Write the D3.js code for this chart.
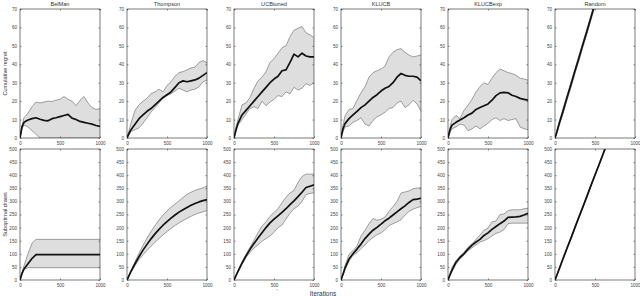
<!DOCTYPE html>
<html>
<head>
<meta charset="utf-8">
<script src="https://cdn.jsdelivr.net/npm/d3@7"></script>
<style>
  html, body { margin: 0; padding: 0; background: #fff; }
  svg { display: block; font-family: "Liberation Sans", Arial, sans-serif; }
  .tick text { fill: #444; font-size: 4.6px; }
  .tick line { stroke: #222; stroke-width: 0.5; }
</style>
</head>
<body>
<svg id="chart" width="640" height="296"></svg>
<script>
const methods = ["BelMan", "Thompson", "UCBtuned", "KLUCB", "KLUCBexp", "Random"];
const iterations = [0, 25, 50, 100, 150, 200, 250, 300, 350, 400, 450, 500, 550, 600, 650, 700, 750, 800, 850, 900, 950, 1000];
const regretTicks = [0, 10, 20, 30, 40, 50, 60, 70];
const drawsTicks = [0, 50, 100, 150, 200, 250, 300, 350, 400, 450, 500];
const iterTicks = [0, 500, 1000];

// Cumulative regret (top row): mean and band edges, one list per method
const regretMean = [
  [0, 6, 8.5, 9.8, 10.5, 11, 10.2, 9.6, 9.3, 10.5, 11, 11.6, 12.2, 12.8, 10.8, 10, 9, 8.5, 8, 7.5, 6.8, 6.3],
  [0, 2.5, 4.5, 7.5, 10.5, 12.5, 14.5, 16, 18, 20, 22, 23.5, 25, 27.5, 30, 31, 30.5, 31, 31.5, 32.5, 34, 35.5],
  [0, 4.5, 8, 12.5, 15, 17.5, 20, 22.5, 25, 27.5, 30, 32, 33.5, 36.5, 37, 41, 45.5, 44, 46, 44.5, 44, 44],
  [0, 5, 7.8, 10.5, 12.5, 14.5, 16.5, 18, 20, 22, 23.5, 25.5, 27, 28, 30, 33, 35, 34, 33.5, 33.5, 33, 31],
  [0, 4.5, 7, 8.5, 9.8, 11, 12.5, 13.5, 15.5, 16.5, 17.5, 18.5, 20.5, 23, 24.5, 24.8, 24.5, 23.2, 22.5, 21.5, 21, 20.5],
  [0, 3.5, 7.5, 14.5, 22, 29, 36.5, 43.5, 51, 58, 65.5, 73, 80, 87.5, 95, 102, 109, 116.5, 124, 131, 138, 145]
];
const regretUpper = [
  [0, 7, 11, 13.5, 17, 19.5, 19, 19.5, 20, 19.8, 20.5, 21, 22.5, 21, 20, 17.5, 20.5, 22.5, 19, 16.5, 15.5, 16],
  [0, 4, 8, 15, 18, 20, 21.5, 24, 25, 26.5, 25, 28.5, 30.5, 33.5, 35.5, 36, 37, 38, 38.5, 41, 42, 40.8],
  [0, 6, 10, 18, 19, 22, 27, 31, 33, 36, 41, 43, 46, 49, 50, 55, 58.5, 59.5, 60.5, 57, 56, 54.5],
  [0, 7, 12, 15.5, 16, 20.5, 24.5, 27.8, 33, 35.5, 36.5, 37.5, 39, 44, 46.5, 48, 48.5, 46.5, 45, 44, 44.5, 45],
  [0, 6, 10, 12.3, 10.5, 15, 17.8, 21, 25, 28, 30, 29, 32.5, 35.5, 37.5, 36.5, 35.5, 35, 34, 32.5, 32, 31.4],
  [0, 4.5, 8.5, 16, 23, 30.5, 37.5, 45, 52, 59.5, 66.5, 74, 81.5, 89, 96, 103.5, 110.5, 118, 125, 132.5, 139.5, 146.5]
];
const regretLower = [
  [0, 5, 7, 6, 4, 2, 0, 0, 0, 0, 0, 0, 0, 0, 0, 0, 0, 0, 0, 0, 0, 0],
  [0, 1.5, 3.5, 4.5, 5.5, 8, 11, 14, 16.5, 19, 21.5, 23, 24, 25.5, 27, 26, 25, 26, 26.5, 27.8, 30.5, 31.4],
  [0, 3.5, 7, 10, 13, 16, 17, 16, 20, 17.5, 19.5, 21, 23, 22.5, 25, 24, 27.5, 26, 27, 29.5, 28.5, 30],
  [0, 3.5, 6, 6.5, 8.5, 9.5, 11, 7.5, 6.5, 9.5, 11.5, 12.5, 14, 16, 16.5, 19, 20, 16.5, 18, 20.5, 18.5, 14.5],
  [0, 3, 5, 6, 7.5, 7, 4, 5, 6.5, 5, 6.5, 8, 10, 11, 9.5, 10.5, 9.5, 10, 10.5, 6, 5, 4.5],
  [0, 2.5, 6.5, 13, 20.5, 27.5, 35, 42, 49.5, 56.5, 64, 71.5, 78.5, 86, 93.5, 100.5, 107.5, 115, 122.5, 129.5, 136.5, 143.5]
];

// Suboptimal draws (bottom row)
const drawsMean = [
  [0, 25, 42, 62, 82, 97, 97, 97, 97, 97, 97, 97, 97, 97, 97, 97, 97, 97, 97, 97, 97, 97],
  [0, 17, 33, 62, 89, 114, 136, 157, 176, 193, 209, 223, 236, 248, 259, 268, 277, 285, 292, 298, 303, 307],
  [0, 17, 33, 64, 92, 117, 139, 160, 180, 200, 218, 232, 245, 258, 272, 288, 302, 318, 335, 353, 358, 363],
  [0, 22, 45, 80, 100, 118, 137, 158, 175, 190, 201, 213, 226, 236, 248, 260, 272, 283, 296, 307, 309, 312],
  [0, 20, 38, 68, 86, 100, 118, 133, 145, 155, 170, 180, 193, 204, 215, 225, 239, 240, 241, 243, 248, 255],
  [0, 20, 40, 81, 121, 160, 201, 241, 280, 320, 361, 401, 440, 480, 521, 561, 600, 640, 681, 720, 760, 801]
];
const drawsUpper = [
  [0, 28, 55, 100, 140, 155, 155, 155, 155, 155, 155, 155, 155, 155, 155, 155, 155, 155, 155, 155, 155, 155],
  [0, 18, 36, 70, 102, 132, 160, 185, 208, 229, 248, 264, 278, 290, 302, 315, 327, 335, 342, 347, 352, 358],
  [0, 18, 35, 68, 98, 125, 152, 180, 207, 222, 243, 258, 272, 295, 316, 332, 342, 372, 395, 404, 404, 404],
  [0, 25, 55, 98, 112, 130, 168, 190, 215, 235, 228, 232, 240, 262, 280, 300, 332, 336, 340, 348, 351, 352],
  [0, 25, 48, 74, 92, 106, 125, 138, 155, 172, 190, 198, 222, 225, 250, 252, 265, 268, 268, 268, 272, 274],
  [0, 23, 44, 85, 125, 164, 205, 245, 284, 324, 365, 405, 444, 484, 525, 565, 604, 644, 685, 724, 764, 805]
];
const drawsLower = [
  [0, 22, 40, 47, 47, 47, 47, 47, 47, 47, 47, 47, 47, 47, 47, 47, 47, 47, 47, 47, 47, 47],
  [0, 16, 30, 55, 77, 96, 113, 129, 144, 158, 172, 185, 197, 208, 218, 227, 235, 243, 250, 256, 260, 265],
  [0, 16, 31, 60, 86, 105, 122, 134, 148, 158, 168, 182, 200, 210, 232, 255, 272, 282, 300, 326, 330, 333],
  [0, 18, 40, 72, 94, 104, 120, 134, 150, 162, 173, 180, 192, 207, 215, 222, 230, 248, 262, 270, 276, 281],
  [0, 16, 32, 60, 80, 95, 112, 123, 134, 145, 150, 158, 168, 178, 183, 192, 215, 217, 217, 217, 217, 217],
  [0, 17, 36, 77, 117, 156, 197, 237, 276, 316, 357, 397, 436, 476, 517, 557, 596, 636, 677, 716, 756, 797]
];

const svg = d3.select("#chart");
const panelW = 80, gap = 107, left0 = 20;
const fmt = d3.format("d");
const rows = [
  { top: 9, bottom: 138, domain: [0, 70], ticks: regretTicks, mean: regretMean, upper: regretUpper, lower: regretLower, label: "Cumulative regret" },
  { top: 149, bottom: 280, domain: [0, 500], ticks: drawsTicks, mean: drawsMean, upper: drawsUpper, lower: drawsLower, label: "Suboptimal draws" }
];

rows.forEach((row, r) => {
  methods.forEach((m, i) => {
    const x0 = left0 + gap * i;
    const x = d3.scaleLinear().domain([0, 1000]).range([x0, x0 + panelW]);
    const y = d3.scaleLinear().domain(row.domain).range([row.bottom, row.top]);
    const clipId = `clip-${r}-${i}`;
    svg.append("clipPath").attr("id", clipId).append("rect")
      .attr("x", x0).attr("y", row.top).attr("width", panelW).attr("height", row.bottom - row.top);
    const g = svg.append("g");
    const plot = g.append("g").attr("clip-path", `url(#${clipId})`);
    const pts = iterations.map((t, k) => ({ t, m: row.mean[i][k], u: row.upper[i][k], l: row.lower[i][k] }));
    plot.append("path").datum(pts)
      .attr("d", d3.area().x(d => x(d.t)).y0(d => y(d.l)).y1(d => y(d.u)))
      .attr("fill", "#dedede");
    ["u", "l"].forEach(key => {
      plot.append("path").datum(pts)
        .attr("d", d3.line().x(d => x(d.t)).y(d => y(d[key])))
        .attr("fill", "none").attr("stroke", "#7a7a7a").attr("stroke-width", 0.7);
    });
    plot.append("path").datum(pts)
      .attr("d", d3.line().x(d => x(d.t)).y(d => y(d.m)))
      .attr("fill", "none").attr("stroke", "#111").attr("stroke-width", 1.7).attr("stroke-linejoin", "round");

    // axes with inward ticks
    const ax = g.append("g").attr("transform", `translate(${x0},0)`)
      .call(d3.axisLeft(y).tickValues(row.ticks).tickFormat(fmt).tickSize(-1.5).tickPadding(3));
    const axR = g.append("g").attr("transform", `translate(${x0 + panelW},0)`)
      .call(d3.axisRight(y).tickValues(row.ticks).tickSize(-1.5).tickFormat(""));
    const axB = g.append("g").attr("transform", `translate(0,${row.bottom})`)
      .call(d3.axisBottom(x).tickValues(iterTicks).tickFormat(fmt).tickSize(-1.5).tickPadding(3.5));
    const axT = g.append("g").attr("transform", `translate(0,${row.top})`)
      .call(d3.axisTop(x).tickValues(iterTicks).tickSize(-1.5).tickFormat(""));
    [ax, axR, axB, axT].forEach(a => a.select(".domain").remove());
    g.append("rect").attr("x", x0).attr("y", row.top).attr("width", panelW).attr("height", row.bottom - row.top)
      .attr("fill", "none").attr("stroke", "#222").attr("stroke-width", 0.6);

    if (r === 0) {
      svg.append("text").attr("x", x0 + panelW / 2).attr("y", 5.5).attr("text-anchor", "middle")
        .attr("font-size", 5.6).attr("fill", "#333").text(m);
    }
  });
  svg.append("text")
    .attr("transform", `translate(7,${(row.top + row.bottom) / 2}) rotate(-90)`)
    .attr("text-anchor", "middle").attr("font-size", 5.6).attr("fill", "#333").text(row.label);
});

svg.append("text").attr("x", 277).attr("y", 292).attr("text-anchor", "middle")
  .attr("font-size", 4).attr("fill", "#777").text("*");
svg.append("text").attr("x", 323).attr("y", 296).attr("text-anchor", "middle")
  .attr("font-size", 6.4).attr("fill", "#333").text("Iterations");
</script>
</body>
</html>
